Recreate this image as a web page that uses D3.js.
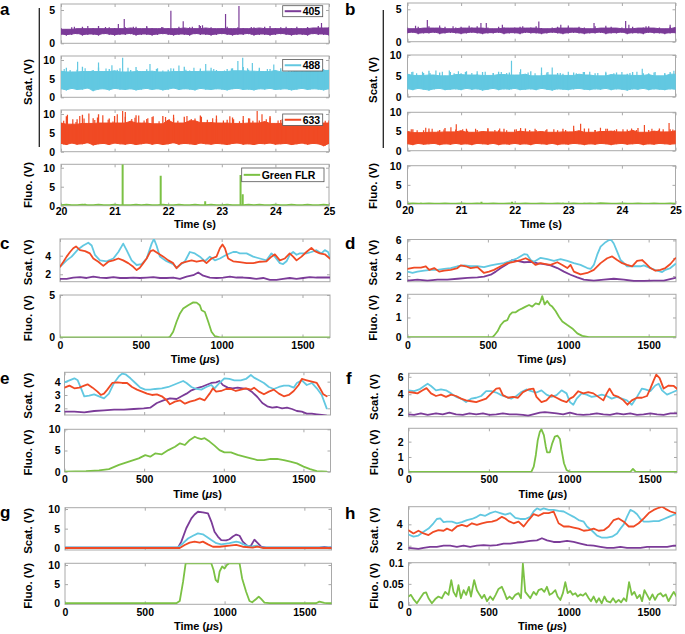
<!DOCTYPE html>
<html><head><meta charset="utf-8">
<script src="https://cdn.jsdelivr.net/npm/d3@7"></script>
<style>body{margin:0;background:#fff}</style>
</head><body>
<svg id="chart" width="685" height="634"></svg>
<script>
// ---------- DATA ----------
const aTime = [20.0,20.1,20.2,20.3,20.4,20.5,20.6,20.7,20.8,20.9,21.0,21.1,21.2,21.3,21.4,21.5,21.6,21.7,21.8,21.9,22.0,22.1,22.2,22.3,22.4,22.5,22.6,22.7,22.8,22.9,23.0,23.1,23.2,23.3,23.4,23.5,23.6,23.7,23.8,23.9,24.0,24.1,24.2,24.3,24.4,24.5,24.6,24.7,24.8,24.9,25.0];
const aTimeTicks = [20,21,22,23,24,25];
const usTicks = [0,500,1000,1500];

// panel a: envelopes of the dense traces + isolated spikes
const a405Hi = [2.3,2.1,2.4,2.2,2.5,2.2,2.3,2.6,2.2,2.4, 2.3,2.2,2.4,2.3,2.5,2.2,2.4,2.3,2.2,2.4, 2.3,2.2,2.5,2.3,2.4,2.2,2.6,2.3,2.4,2.2, 2.3,2.5,2.2,2.4,2.3,2.2,2.4,2.3,2.5,2.2, 2.3,2.4,2.2,2.3,2.5,2.2,2.4,2.3,2.6,2.3, 2.4];
const a405Lo = [1.4,1.3,1.4,1.5,1.3,1.4,1.4,1.3,1.5,1.4, 1.3,1.4,1.4,1.5,1.3,1.4,1.4,1.3,1.4,1.5, 1.4,1.3,1.4,1.4,1.3,1.5,1.4,1.4,1.3,1.4, 1.5,1.4,1.3,1.4,1.4,1.5,1.3,1.4,1.4,1.3, 1.4,1.5,1.4,1.3,1.4,1.4,1.3,1.5,1.4,1.4, 1.3];
const a405Spikes = [[20.5,2.6],[21.07,2.9],[21.18,3.65],[21.6,2.6],[22.05,4.9],[22.28,3.3],[22.58,2.75],[22.64,2.7],[23.07,4.4],[23.32,5.6],[23.9,2.6],[24.86,3.05],[20.25,2.5],[20.83,2.45],[21.35,2.5],[21.88,2.45],[22.45,2.5],[23.55,2.45],[24.2,2.5],[24.6,2.45]];
const a488Hi = [7.0,7.9,6.8,7.4,8.2,6.9,7.3,8.0,6.9,7.6, 7.1,7.8,6.8,7.3,8.1,6.9,7.5,7.0,7.8,6.8, 7.4,7.7,6.9,8.2,7.2,6.9,7.7,7.0,7.9,7.3, 6.9,7.6,7.8,7.1,8.1,7.4,7.0,7.9,6.9,7.6, 7.2,7.8,6.8,7.5,7.0,7.7,7.3,6.9,7.6,7.2, 7.4];
const a488Lo = [2.3,2.0,2.4,2.1,2.2,2.5,1.8,2.2,2.3,2.0, 2.4,2.2,2.1,2.3,2.0,2.2,2.4,2.1,2.3,2.0, 2.2,2.5,2.1,2.3,2.2,2.0,2.4,2.2,2.1,2.3, 2.2,2.0,2.3,2.4,2.1,2.2,2.0,2.3,2.2,2.4, 2.1,2.2,2.3,2.0,2.2,2.4,2.1,2.3,2.2,2.0, 2.3];
const a488Spikes = [[20.31,9.5],[20.7,9.3],[20.95,8.6],[21.15,10.6],[21.66,8.9],[22.2,8.5],[22.7,8.9],[23.3,9.7],[23.39,10.6],[23.57,9.2],[23.97,8.8],[24.5,8.4],
  [20.06,7.6],[20.17,7.3],[20.45,7.8],[20.58,7.2],[20.84,7.7],[21.05,7.4],[21.25,7.9],[21.42,7.3],[21.78,7.6],[21.9,7.2],[22.05,7.8],[22.33,7.4],[22.48,7.9],[22.6,7.3],[22.85,7.6],[23.05,7.2],[23.18,7.7],[23.48,7.8],[23.7,7.4],[23.85,7.6],[24.1,7.3],[24.25,7.8],[24.65,7.5],[24.78,7.2],[24.9,7.6]];
const a633Hi = [7.6,9.4,7.3,8.6,9.8,7.5,8.9,9.9,7.6,8.8, 9.5,7.6,9.3,8.1,9.7,7.6,8.7,9.2,7.4,9.5, 8.4,9.0,7.6,9.3,8.2,8.8,9.6,7.7,7.9,8.7, 7.6,8.5,9.1,7.5,8.4,8.9,7.6,8.3,8.0,9.1, 7.5,8.4,8.8,7.6,8.2,8.7,7.4,8.1,8.6,7.6, 8.3];
const a633Lo = [2.2,1.9,2.3,2.0,2.1,2.4,1.8,2.1,2.2,1.9, 2.3,2.1,2.0,2.2,1.9,2.1,2.3,2.0,2.2,1.9, 2.1,2.4,2.0,2.2,2.1,1.9,2.3,2.1,2.0,2.2, 2.1,1.9,2.2,2.3,2.0,2.1,1.9,2.2,2.1,2.3, 2.0,2.1,2.2,1.9,2.1,2.3,2.0,2.2,2.1,1.6, 2.2];
const a633Spikes = [[20.12,9.8],[20.35,9.5],[20.52,10.1],[20.78,9.7],[21.05,9.9],[21.15,10.8],[21.2,10.5],[21.45,9.6],[21.72,9.4],[21.95,9.2],[22.1,9.8],[22.35,9.5],[22.62,9.3],[22.9,9.6],[23.15,9.4],[23.4,9.5],[23.66,10.8],[23.75,9.9],[23.9,9.5],[24.2,9.0],[24.55,8.9],[24.8,9.2],
  [20.05,8.2],[20.22,8.6],[20.28,7.9],[20.43,8.8],[20.63,8.4],[20.68,9.1],[20.88,8.5],[20.97,8.0],[21.32,8.7],[21.38,9.0],[21.55,8.3],[21.62,8.9],[21.83,8.1],[22.02,8.6],[22.18,8.2],[22.43,8.7],[22.53,8.0],[22.73,8.5],[22.83,8.9],[23.03,8.3],[23.22,8.6],[23.33,8.1],[23.52,8.8],[23.58,8.2],[23.83,8.6],[24.05,8.3],[24.13,8.7],[24.33,8.1],[24.42,8.5],[24.63,8.0],[24.72,8.4],[24.93,8.2]];
const aFluoBase = [0.2,0.3,0.2,0.2,0.3,0.2,0.2,0.3,0.2,0.2, 0.3,0.2,0.2,0.2,0.3,0.2,0.3,0.2,0.2,0.3, 0.2,0.2,0.3,0.2,0.2,0.3,0.2,0.2,0.3,0.2, 0.2,0.3,0.2,0.2,0.2,0.3,0.2,0.3,0.2,0.2, 0.3,0.2,0.2,0.3,0.2,0.2,0.3,0.2,0.2,0.3, 0.2];
const aFluoSpikes = [[20.45,0.5],[21.15,10.9],[21.86,7.9],[22.69,1.2],[23.35,8.1],[23.39,3.0]];

// panel b
const b405Hi = [2.2,2.0,2.3,2.1,2.4,2.1,2.2,2.3,2.0,2.2, 2.3,2.1,2.2,2.4,2.1,2.2,2.0,2.3,2.2,2.1, 2.2,2.3,2.1,2.2,2.4,2.1,2.0,2.2,2.3,2.1, 2.2,2.1,2.3,2.2,2.0,2.4,2.1,2.2,2.3,2.1, 2.2,2.0,2.3,2.1,2.2,2.4,2.1,2.2,2.0,2.3, 2.2];
const b405Lo = [1.4,1.5,1.3,1.4,1.4,1.5,1.3,1.4,1.5,1.4, 1.3,1.4,1.5,1.4,1.3,1.4,1.4,1.5,1.3,1.4, 1.4,1.3,1.5,1.4,1.4,1.3,1.4,1.5,1.4,1.3, 1.4,1.5,1.4,1.3,1.4,1.4,1.5,1.3,1.4,1.4, 1.5,1.3,1.4,1.4,1.3,1.5,1.4,1.4,1.3,1.4, 1.4];
const b405Spikes = [[20.37,3.35],[20.6,2.5],[21.37,2.9],[21.47,2.9],[21.77,2.6],[22.45,3.1],[22.86,2.6],[23.0,2.5],[23.48,2.9],[24.07,3.2],[24.13,2.6],[24.9,2.6],[20.15,2.45],[20.85,2.4],[21.15,2.45],[22.15,2.4],[23.7,2.45],[24.45,2.4]];
const b488Hi = [5.4,6.0,5.1,5.7,6.2,5.2,5.8,5.0,5.9,5.3, 5.6,6.1,5.2,5.5,5.9,5.1,5.7,6.0,5.3,5.8, 5.2,5.9,5.4,6.1,5.0,5.6,5.8,5.2,5.7,5.5, 5.1,5.8,5.4,5.9,5.2,5.6,5.0,5.7,5.3,5.8, 5.2,5.5,5.9,5.1,5.6,5.3,5.8,5.0,5.5,5.9, 5.4];
const b488Lo = [1.9,1.7,2.0,1.8,1.6,1.9,2.0,1.7,1.8,1.9, 1.7,2.0,1.8,1.9,1.6,1.8,2.0,1.7,1.9,1.8, 2.0,1.7,1.8,1.9,1.7,2.0,1.8,1.6,1.9,1.8, 1.7,1.9,2.0,1.8,1.7,1.9,1.8,2.0,1.7,1.9, 1.8,1.6,1.9,1.8,2.0,1.7,1.9,1.8,1.7,1.9, 1.8];
const b488Spikes = [[20.53,6.3],[20.78,6.3],[20.95,6.1],[21.3,6.1],[21.94,8.6],[22.11,6.6],[22.5,7.0],[22.7,7.0],[23.4,6.0],[24.38,6.7],[24.97,6.2],
  [20.08,5.9],[20.17,5.6],[20.28,6.0],[20.42,5.7],[20.65,6.0],[20.87,5.6],[21.08,5.9],[21.2,5.7],[21.45,6.0],[21.6,5.6],[21.75,5.9],[21.85,5.7],[22.25,5.8],[22.38,5.6],[22.62,5.9],[22.85,5.7],[23.0,6.0],[23.15,5.6],[23.28,5.9],[23.55,5.7],[23.7,6.0],[23.85,5.6],[24.0,5.9],[24.15,5.7],[24.28,6.0],[24.5,5.6],[24.62,5.9],[24.8,5.7]];
const b633Hi = [5.0,5.6,4.7,5.3,5.8,4.8,5.4,5.9,4.9,5.5, 5.2,5.7,4.8,5.4,5.0,5.6,4.9,5.3,5.7,4.8, 5.5,5.1,5.8,4.9,5.4,5.0,5.6,4.8,5.3,5.7, 4.9,5.5,5.2,5.8,4.8,5.4,5.0,5.7,5.1,5.6, 4.9,5.5,5.3,5.9,4.8,5.4,5.1,5.8,4.9,5.6, 5.2];
const b633Lo = [1.8,1.6,1.9,1.7,1.8,1.9,1.6,1.8,1.7,1.9, 1.7,1.8,1.6,1.9,1.8,1.7,1.9,1.6,1.8,1.7, 1.9,1.7,1.8,1.6,1.9,1.8,1.7,1.9,1.6,1.8, 1.7,1.9,1.8,1.6,1.8,1.7,1.9,1.8,1.6,1.8, 1.9,1.7,1.8,1.9,1.6,1.8,1.7,1.9,1.8,1.7, 1.8];
const b633Spikes = [[20.34,6.0],[20.81,6.1],[20.91,6.9],[21.5,5.9],[22.11,5.9],[23.1,6.5],[23.23,7.0],[23.6,6.0],[24.42,6.7],[24.88,7.2],
  [20.07,5.6],[20.18,5.3],[20.46,5.7],[20.57,5.2],[20.68,5.5],[21.03,5.6],[21.12,5.2],[21.27,5.7],[21.63,5.4],[21.72,5.8],[21.85,5.3],[22.03,5.6],[22.28,5.4],[22.38,5.7],[22.58,5.3],[22.73,5.6],[22.95,5.4],[23.38,5.8],[23.5,5.4],[23.73,5.7],[23.86,5.3],[24.02,5.6],[24.18,5.8],[24.27,5.4],[24.56,5.7],[24.68,5.3],[24.77,5.6],[24.95,5.5]];
const bFluoBase = [0.15,0.2,0.15,0.15,0.2,0.15,0.15,0.2,0.15,0.15, 0.2,0.15,0.15,0.2,0.15,0.15,0.2,0.15,0.15,0.2, 0.15,0.15,0.2,0.15,0.15,0.2,0.15,0.15,0.2,0.15, 0.15,0.2,0.15,0.15,0.2,0.15,0.25,0.2,0.15,0.15, 0.2,0.15,0.15,0.2,0.15,0.15,0.2,0.15,0.15,0.2, 0.15];
const bFluoSpikes = [[20.25,0.3],[21.38,0.6],[21.95,0.6],[22.9,0.35],[23.3,0.3]];

// panel c  [time µs, volts]
const cPurple = [[0,1.5],[41,1.5],[82,1.65],[124,1.7],[165,1.6],[206,1.75],[247,1.65],[288,1.6],[330,1.7],[371,1.6],[412,1.6],[453,1.65],[494,1.6],[536,1.65],[577,1.7],[618,1.6],[659,1.6],[700,1.65],[742,1.5],[783,1.75],[824,1.9],[855,2.2],[886,1.85],[927,1.65],[968,1.6],[1009,1.65],[1051,1.75],[1092,1.65],[1133,1.65],[1174,1.6],[1215,1.5],[1257,1.6],[1298,1.4],[1339,1.4],[1380,1.5],[1421,1.6],[1463,1.5],[1504,1.6],[1545,1.7],[1586,1.65],[1627,1.65],[1669,1.65]];
const cCyan = [[0,2.8],[41,3.5],[72,3.9],[113,4.7],[144,5.1],[175,5.4],[196,5.1],[216,4.1],[247,3.5],[288,3.4],[330,3.7],[361,4.4],[391,5.3],[412,4.6],[443,3.5],[474,3.0],[505,3.1],[536,3.7],[567,5.3],[581,5.8],[597,5.1],[618,3.9],[659,3.4],[700,3.1],[721,2.7],[742,3.0],[773,3.4],[803,4.4],[834,4.25],[865,3.9],[896,3.4],[927,3.9],[958,3.5],[989,3.7],[1030,4.1],[1071,4.4],[1092,4.4],[1112,4.25],[1154,4.25],[1195,3.9],[1236,3.7],[1277,3.5],[1308,4.25],[1329,3.9],[1360,3.2],[1380,3.1],[1401,3.4],[1421,4.1],[1442,4.4],[1463,4.1],[1483,4.25],[1524,4.25],[1555,4.4],[1586,4.6],[1617,4.25],[1638,4.6],[1658,4.4],[1669,3.9]];
const cRed = [[0,2.8],[21,3.35],[41,3.9],[62,4.4],[82,4.8],[99,5.0],[124,4.6],[155,4.5],[185,4.25],[206,3.7],[237,3.35],[268,2.9],[299,3.35],[330,3.5],[361,3.7],[391,3.5],[422,3.2],[453,2.8],[474,2.45],[494,2.7],[515,3.2],[536,3.7],[560,4.5],[577,4.6],[608,4.25],[639,3.9],[670,3.5],[700,3.2],[721,2.65],[752,3.2],[783,3.35],[814,3.5],[845,3.35],[886,3.5],[906,3.2],[937,3.7],[968,3.9],[989,4.8],[1005,5.2],[1020,4.8],[1040,3.7],[1071,3.4],[1112,3.3],[1154,3.2],[1195,3.2],[1236,3.35],[1277,3.4],[1308,3.9],[1329,4.15],[1360,3.5],[1391,3.7],[1421,4.25],[1442,3.9],[1463,3.5],[1494,3.9],[1524,4.4],[1555,4.85],[1576,4.5],[1607,4.25],[1638,4.15],[1669,3.7]];
const cGreen = [[0,0.01],[670,0.01],[680,0.08],[700,0.67],[721,1.85],[742,2.83],[762,3.4],[793,3.8],[824,4.13],[845,4.1],[865,3.8],[876,3.2],[896,3.0],[917,1.85],[937,0.67],[958,0.15],[989,0.01],[1669,0.01]];

// panel d
const dPurple = [[0,1.5],[62,1.6],[124,1.5],[186,1.6],[248,1.6],[311,1.7],[373,1.8],[435,1.85],[476,1.95],[518,2.15],[549,2.5],[580,2.9],[621,3.35],[652,3.8],[683,3.7],[725,3.55],[766,3.6],[807,3.45],[849,3.35],[890,3.2],[932,2.9],[973,2.5],[1014,2.15],[1056,1.85],[1097,1.6],[1159,1.5],[1221,1.6],[1283,1.7],[1346,1.6],[1408,1.45],[1470,1.45],[1532,1.5],[1594,1.5],[1666,1.8]];
const dCyan = [[0,2.5],[31,2.35],[62,2.5],[104,2.6],[145,2.7],[186,2.7],[228,2.8],[269,2.9],[311,3.1],[352,3.2],[393,3.1],[435,3.1],[476,3.0],[518,3.2],[559,3.35],[600,3.45],[642,3.7],[683,4.0],[725,4.45],[745,4.4],[766,3.8],[787,3.6],[828,4.05],[869,3.9],[911,3.7],[952,3.9],[994,3.7],[1035,3.45],[1076,3.25],[1118,2.9],[1139,2.8],[1159,3.25],[1180,4.4],[1201,5.3],[1232,5.8],[1263,6.15],[1283,5.65],[1304,4.75],[1325,3.8],[1366,3.1],[1408,3.1],[1449,3.1],[1470,3.2],[1511,2.9],[1553,2.6],[1584,2.45],[1604,2.7],[1635,2.9],[1666,3.35]];
const dRed = [[0,2.8],[41,2.95],[83,2.95],[114,3.1],[135,2.7],[166,2.9],[197,2.5],[228,2.6],[269,2.7],[311,2.9],[331,3.2],[362,3.1],[393,2.9],[435,3.0],[476,2.35],[507,2.5],[538,2.7],[580,3.1],[621,3.45],[662,3.6],[704,3.8],[735,4.0],[766,3.7],[797,3.25],[828,3.45],[859,3.35],[890,3.25],[932,3.55],[963,3.25],[994,2.9],[1014,3.25],[1035,2.5],[1076,2.2],[1118,2.35],[1159,2.7],[1201,3.45],[1242,4.0],[1273,4.2],[1304,3.8],[1335,3.45],[1366,3.25],[1397,3.1],[1428,3.7],[1459,3.8],[1480,3.45],[1511,2.9],[1542,2.6],[1573,2.7],[1604,2.9],[1635,3.35],[1666,4.0]];
const dGreen = [[0,0.01],[528,0.01],[538,0.08],[559,0.29],[580,0.62],[600,0.8],[621,0.87],[636,1.13],[652,1.26],[673,1.26],[693,1.38],[714,1.46],[735,1.55],[756,1.63],[776,1.55],[797,1.71],[818,1.66],[828,1.83],[838,2.08],[853,1.66],[869,1.83],[886,1.63],[900,1.55],[921,1.33],[942,1.04],[963,0.8],[994,0.62],[1025,0.45],[1056,0.2],[1087,0.07],[1128,0.01],[1666,0.01]];

// panel e
const ePurple = [[0,1.75],[62,1.75],[124,1.7],[186,1.8],[248,1.85],[311,1.9],[373,1.9],[435,1.95],[497,2.0],[538,2.05],[580,2.4],[621,2.6],[662,2.75],[704,2.7],[735,2.9],[766,3.1],[797,3.35],[828,3.5],[859,3.6],[890,3.75],[921,3.9],[952,3.95],[973,4.05],[994,3.75],[1025,3.55],[1056,3.5],[1087,3.55],[1118,3.5],[1149,3.45],[1180,3.2],[1211,2.85],[1242,2.4],[1273,2.15],[1304,2.05],[1335,2.1],[1366,2.0],[1397,2.05],[1428,1.95],[1459,1.8],[1490,1.75],[1521,1.6],[1553,1.6],[1584,1.55],[1615,1.5],[1646,1.45]];
const eCyan = [[0,3.95],[31,4.1],[62,4.25],[83,4.1],[104,3.5],[124,2.9],[155,2.95],[186,3.05],[217,2.9],[248,2.75],[279,3.1],[311,3.9],[342,4.4],[362,4.6],[383,4.55],[414,4.25],[445,3.9],[476,3.55],[507,3.4],[538,3.4],[569,3.45],[611,3.5],[652,3.6],[683,3.75],[714,3.9],[745,4.05],[766,3.9],[797,3.6],[828,3.45],[859,3.4],[890,3.6],[921,3.75],[942,3.5],[973,3.9],[1004,4.25],[1035,4.2],[1066,4.1],[1107,4.1],[1139,4.2],[1170,4.5],[1190,4.3],[1221,4.1],[1252,3.9],[1283,3.6],[1314,3.45],[1346,3.6],[1377,3.7],[1408,3.7],[1439,3.55],[1459,3.9],[1490,4.1],[1521,3.75],[1553,3.9],[1584,3.5],[1615,3.0],[1646,2.0]];
const eRed = [[0,3.55],[31,3.7],[62,3.5],[93,3.55],[124,3.7],[145,3.8],[176,3.55],[207,3.25],[228,3.0],[248,3.1],[269,3.4],[300,3.9],[331,3.95],[362,3.9],[393,3.9],[424,3.6],[455,3.4],[487,3.25],[518,3.1],[549,3.0],[580,3.05],[611,2.9],[642,2.6],[662,2.3],[693,2.5],[725,2.6],[756,2.35],[787,2.5],[818,2.6],[849,2.75],[880,2.6],[911,3.1],[932,3.5],[952,3.25],[983,3.3],[1014,3.45],[1045,3.45],[1076,3.3],[1108,3.4],[1139,3.5],[1170,3.4],[1190,3.55],[1221,3.25],[1252,3.05],[1283,3.25],[1314,3.4],[1346,3.1],[1377,2.9],[1408,3.0],[1439,3.3],[1470,3.75],[1490,4.2],[1521,4.1],[1553,4.0],[1584,3.9],[1604,3.5],[1625,3.05],[1646,2.9]];
const eGreen = [[0,0.02],[135,0.15],[217,0.3],[279,0.6],[342,1.6],[404,2.4],[466,3.15],[507,3.9],[538,3.55],[569,4.3],[611,4.1],[652,5.1],[694,5.9],[725,6.7],[756,6.3],[787,7.5],[818,8.25],[838,7.9],[859,7.7],[880,7.9],[911,7.1],[942,6.15],[973,5.1],[1004,4.55],[1045,4.55],[1087,3.95],[1128,3.55],[1170,3.15],[1211,2.75],[1252,2.75],[1294,3.0],[1335,3.0],[1377,2.75],[1418,2.35],[1459,1.95],[1501,1.2],[1542,0.6],[1584,0.15],[1646,0.02]];

// panel f
const fPurple = [[0,1.7],[35,1.65],[77,1.8],[119,1.65],[171,1.8],[213,1.7],[254,1.9],[296,1.7],[338,1.65],[379,1.8],[421,1.7],[463,1.8],[504,1.65],[546,1.7],[587,1.8],[629,1.7],[671,1.7],[712,1.65],[744,1.55],[775,1.7],[817,1.9],[848,1.95],[879,1.9],[921,1.8],[962,1.7],[1004,1.9],[1046,1.7],[1087,1.65],[1129,1.7],[1171,1.8],[1212,1.7],[1254,1.65],[1296,1.8],[1337,1.7],[1379,1.8],[1421,1.65],[1462,1.7],[1504,1.8],[1546,1.7],[1587,1.65],[1629,1.8],[1675,1.8]];
const fCyan = [[0,4.45],[35,4.35],[67,4.55],[98,4.95],[119,5.2],[140,4.95],[171,4.45],[202,4.55],[233,4.45],[265,4.1],[296,3.7],[327,3.5],[358,3.1],[390,3.5],[421,3.6],[452,3.8],[483,4.35],[515,4.35],[546,4.2],[577,3.9],[608,3.7],[639,3.5],[671,3.8],[702,4.25],[733,4.55],[764,4.35],[796,4.2],[827,4.45],[858,3.95],[889,3.7],[921,3.9],[952,4.45],[983,4.1],[1004,3.1],[1025,2.8],[1046,3.5],[1077,4.1],[1108,3.95],[1139,3.7],[1171,3.8],[1202,3.95],[1233,3.8],[1264,3.5],[1296,3.7],[1327,3.5],[1358,3.3],[1389,2.8],[1421,3.7],[1452,4.65],[1473,4.55],[1504,4.35],[1535,5.0],[1556,5.2],[1577,4.45],[1608,3.95],[1639,4.2],[1671,4.45]];
const fRed = [[0,4.25],[25,4.2],[56,4.1],[88,4.45],[112,4.7],[140,4.1],[171,3.8],[202,3.95],[233,3.7],[265,3.95],[296,3.8],[327,3.5],[358,3.3],[390,3.2],[421,3.1],[452,3.3],[483,3.5],[515,4.1],[546,4.65],[567,4.7],[587,3.9],[619,3.6],[650,3.7],[681,3.6],[712,4.25],[746,4.55],[777,4.65],[796,3.7],[827,3.1],[858,3.3],[889,3.9],[921,3.6],[952,3.3],[983,3.1],[1004,3.5],[1025,3.7],[1056,4.35],[1087,4.1],[1118,4.25],[1150,4.1],[1181,3.7],[1212,3.3],[1233,4.1],[1250,4.65],[1275,3.9],[1306,3.7],[1337,3.3],[1362,2.8],[1389,3.3],[1421,3.6],[1452,3.6],[1483,3.8],[1504,4.65],[1525,5.6],[1541,6.25],[1562,5.85],[1587,4.65],[1618,5.0],[1650,4.95],[1675,4.55]];
const fGreen = [[0,0.02],[764,0.02],[779,0.37],[792,1.13],[804,2.1],[817,2.65],[827,2.8],[842,2.43],[854,1.67],[862,1.3],[879,1.3],[894,1.89],[910,2.33],[927,2.39],[942,2.17],[952,1.46],[967,0.59],[983,0.15],[1004,0.02],[1379,0.02],[1396,0.22],[1412,0.04],[1675,0.02]];

// panel g
const gPurple = [[0,0.17],[708,0.17],[729,1.7],[760,5.1],[792,7.6],[812,8.6],[833,9.3],[864,9.15],[896,8.9],[917,6.8],[937,4.2],[958,3.0],[979,2.1],[1010,2.0],[1031,2.3],[1052,3.0],[1073,3.5],[1094,3.2],[1114,1.7],[1146,0.5],[1166,0.7],[1187,2.2],[1208,1.3],[1229,0.4],[1260,0.17],[1594,0.17],[1625,0.35],[1656,0.2],[1670,0.2]];
const gCyan = [[0,0.25],[708,0.25],[740,1.3],[771,2.5],[802,3.2],[833,3.8],[864,3.55],[885,3.0],[917,2.1],[948,1.3],[979,1.0],[1031,1.3],[1073,1.7],[1094,1.5],[1125,0.85],[1166,0.4],[1198,0.7],[1229,0.25],[1670,0.25]];
const gRed = [[0,0.08],[719,0.08],[750,0.85],[781,1.45],[812,1.7],[844,1.45],[864,1.7],[896,1.0],[927,0.4],[969,0.4],[1031,0.7],[1073,0.85],[1114,0.4],[1177,0.2],[1208,0.45],[1239,0.08],[1670,0.08]];
const gGreen = [[0,0.02],[698,0.02],[719,0.6],[740,5.65],[756,10.4],[917,10.4],[931,8.7],[944,6.1],[958,5.5],[969,8.3],[985,9.6],[1000,9.1],[1014,10.0],[1027,10.4],[1094,10.4],[1110,6.5],[1135,3.0],[1156,0.6],[1173,0.26],[1198,1.13],[1214,1.74],[1229,1.13],[1250,0.2],[1281,0.02],[1573,0.02],[1594,0.43],[1625,0.1],[1656,0.02],[1670,0.02]];

// panel h
const hPurple = [[0,1.8],[31,1.75],[62,1.7],[94,1.8],[135,1.9],[177,1.9],[219,2.0],[260,2.0],[302,1.9],[344,2.0],[385,1.9],[427,2.0],[469,2.05],[510,2.0],[552,2.05],[594,2.2],[635,2.2],[677,2.3],[719,2.35],[760,2.45],[802,2.5],[833,2.7],[865,2.5],[906,2.35],[948,2.35],[990,2.45],[1031,2.35],[1073,2.2],[1114,2.05],[1156,2.0],[1198,1.9],[1239,1.8],[1281,1.8],[1323,1.9],[1364,1.8],[1406,1.8],[1448,1.8],[1490,1.9],[1531,1.9],[1573,1.9],[1615,1.9],[1656,2.0],[1673,2.0]];
const hCyan = [[0,3.05],[31,2.85],[62,2.95],[94,3.3],[125,3.6],[156,4.1],[177,4.5],[198,4.55],[219,4.2],[240,4.25],[271,4.25],[302,4.1],[333,4.2],[365,4.4],[396,4.5],[427,4.7],[448,4.9],[479,4.8],[510,5.05],[542,5.2],[573,5.05],[604,4.9],[635,5.05],[667,4.6],[698,4.5],[729,4.5],[760,4.7],[781,5.2],[802,5.5],[823,5.35],[844,5.5],[875,5.35],[906,5.35],[937,5.25],[969,5.2],[1000,4.95],[1031,4.7],[1062,4.4],[1094,4.25],[1114,3.8],[1146,3.4],[1177,2.95],[1208,2.75],[1239,2.75],[1271,2.85],[1302,3.15],[1323,3.6],[1344,4.0],[1364,4.7],[1385,5.35],[1406,5.2],[1427,4.95],[1448,4.5],[1469,4.25],[1500,4.25],[1531,4.3],[1562,4.3],[1594,4.5],[1625,4.7],[1656,4.9],[1673,4.95]];
const hRed = [[0,3.45],[31,3.15],[62,3.4],[94,3.15],[125,3.0],[156,3.3],[187,3.45],[219,3.4],[240,3.6],[271,3.4],[302,3.8],[333,3.95],[364,3.8],[396,4.1],[427,3.95],[458,4.1],[490,4.2],[521,4.25],[552,4.4],[583,4.7],[604,4.55],[625,4.3],[656,4.1],[687,4.25],[719,3.8],[750,4.4],[781,4.95],[812,4.8],[844,5.05],[875,5.05],[906,5.2],[937,4.1],[969,3.8],[1000,3.8],[1031,3.7],[1062,3.6],[1094,3.4],[1125,3.45],[1156,3.6],[1187,3.4],[1219,3.45],[1250,3.8],[1281,4.4],[1312,4.55],[1344,4.25],[1375,3.8],[1406,3.8],[1437,4.1],[1469,4.55],[1500,5.05],[1531,5.35],[1562,5.55],[1583,5.65],[1604,5.45],[1635,5.2],[1667,5.05]];
const hGreen = [[0,0.02],[15,0.024],[31,0.014],[52,0.004],[73,0.016],[94,0.028],[110,0.03],[125,0.016],[146,0.004],[167,0.014],[187,0.02],[208,0.016],[229,0.031],[250,0.024],[267,0.059],[281,0.031],[298,0.02],[312,0.047],[327,0.016],[344,0.035],[360,0.024],[377,0.043],[390,0.02],[410,0.059],[427,0.035],[444,0.024],[458,0.016],[473,0.024],[490,0.009],[510,0.02],[527,0.012],[544,0.024],[562,0.038],[583,0.043],[600,0.028],[614,0.014],[631,0.02],[648,0.014],[667,0.024],[687,0.028],[702,0.016],[714,0.098],[729,0.031],[744,0.024],[760,0.016],[781,0.031],[798,0.024],[812,0.035],[831,0.038],[848,0.031],[864,0.043],[881,0.024],[898,0.028],[917,0.035],[931,0.02],[948,0.012],[964,0.028],[979,0.054],[994,0.028],[1010,0.033],[1025,0.024],[1042,0.028],[1056,0.02],[1073,0.025],[1089,0.022],[1106,0.028],[1125,0.016],[1139,0.009],[1156,0.02],[1173,0.006],[1189,0.016],[1206,0.004],[1223,0.02],[1239,0.009],[1260,0.006],[1277,0.016],[1294,0.006],[1312,0.012],[1327,0.006],[1344,0.016],[1360,0.009],[1377,0.054],[1394,0.024],[1410,0.031],[1427,0.016],[1444,0.024],[1458,0.009],[1473,0.035],[1489,0.024],[1506,0.012],[1523,0.025],[1539,0.012],[1556,0.024],[1573,0.028],[1589,0.02],[1606,0.025],[1623,0.009],[1639,0.02],[1656,0.031],[1673,0.02]];

const legendLabels = ['405','488','633','Green FLR'];

// ---------- DRAWING ----------
const FONT = '"Liberation Sans", Arial, Helvetica, sans-serif';
const COL = {p:'#7B3B98', c:'#62C8E1', r:'#F04A24', g:'#7BC144'};
const BOX = '#a9a9a9';
const svg = d3.select('#chart').attr('font-family', FONT);
let clipN = 0;

function makeAxes(o) {
  const x = d3.scaleLinear().domain(o.xd).range([o.x0, o.x1]);
  const y = d3.scaleLinear().domain(o.yd).range([o.y1, o.y0]);
  const id = 'clip' + (clipN++);
  svg.append('clipPath').attr('id', id).append('rect')
    .attr('x', o.x0).attr('y', o.y0).attr('width', o.x1 - o.x0).attr('height', o.y1 - o.y0);
  const g = svg.append('g');
  g.append('rect').attr('x', o.x0).attr('y', o.y0).attr('width', o.x1 - o.x0).attr('height', o.y1 - o.y0)
    .attr('fill', '#fff').attr('stroke', BOX).attr('stroke-width', 1);
  g.append('g').attr('transform', `translate(${o.x0},0)`)
    .call(d3.axisLeft(y).tickValues(o.yt).tickSize(-3).tickPadding(o.yPad ?? 6).tickFormat(d3.format('~g')));
  g.append('g').attr('transform', `translate(${o.x1},0)`)
    .call(d3.axisRight(y).tickValues(o.yt).tickSize(-3).tickFormat(() => ''));
  g.append('g').attr('transform', `translate(0,${o.y1})`)
    .call(d3.axisBottom(x).tickValues(o.xt).tickSize(-3).tickPadding(o.xPad ?? 4.5)
      .tickFormat(o.xLab ? d3.format('~g') : () => ''));
  g.append('g').attr('transform', `translate(0,${o.y0})`)
    .call(d3.axisTop(x).tickValues(o.xt).tickSize(-3).tickFormat(() => ''));
  g.selectAll('.domain').remove();
  g.selectAll('.tick line').attr('stroke', BOX);
  g.selectAll('.tick text').attr('font-size', 10.5).attr('font-weight', 'bold')
    .attr('font-family', FONT).attr('fill', '#000');
  const plot = svg.append('g').attr('clip-path', `url(#${id})`);
  return {x, y, plot};
}

function drawLine(ax, data, color, w) {
  ax.plot.append('path').datum(data)
    .attr('d', d3.line().x(d => ax.x(d[0])).y(d => ax.y(d[1])))
    .attr('fill', 'none').attr('stroke', color).attr('stroke-width', w || 1.8)
    .attr('stroke-linejoin', 'round').attr('stroke-linecap', 'round');
}

// dense noisy trace: solid core + a needle at every sample and at each listed spike
function drawBand(ax, time, lo, hi, spikes, color) {
  const n = Math.min(time.length, lo.length, hi.length);
  const idx = d3.range(n);
  const core = idx.map(i => d3.min([hi[Math.max(0, i - 1)], hi[i], hi[Math.min(n - 1, i + 1)]]));
  ax.plot.append('path').datum(idx)
    .attr('d', d3.area().x(i => ax.x(time[i])).y0(i => ax.y(lo[i])).y1(i => ax.y(core[i])))
    .attr('fill', color).attr('stroke', color).attr('stroke-width', 1).attr('stroke-linejoin', 'round');
  ax.plot.selectAll(null).data(idx).join('line')
    .attr('x1', i => ax.x(time[i])).attr('x2', i => ax.x(time[i]))
    .attr('y1', i => ax.y(lo[i] - 0.15)).attr('y2', i => ax.y(hi[i]))
    .attr('stroke', color).attr('stroke-width', 1.3);
  ax.plot.selectAll(null).data(spikes).join('line')
    .attr('x1', d => ax.x(d[0])).attr('x2', d => ax.x(d[0]))
    .attr('y1', d => ax.y(lo[d3.bisectCenter(time, d[0])]))
    .attr('y2', d => ax.y(d[1]))
    .attr('stroke', color).attr('stroke-width', 1.2);
}

function drawFluoBase(ax, time, base, spikes, color) {
  const pts = time.map((t, i) => [t, base[i]]);
  drawLine(ax, pts, color, 1.6);
  ax.plot.selectAll(null).data(spikes).join('line')
    .attr('x1', d => ax.x(d[0])).attr('x2', d => ax.x(d[0]))
    .attr('y1', ax.y(0.2)).attr('y2', d => ax.y(d[1]))
    .attr('stroke', color).attr('stroke-width', 2);
}

function text(x, y, str, size, opt = {}) {
  const t = svg.append('text').attr('x', x).attr('y', y).attr('font-size', size)
    .attr('font-weight', 'bold').attr('fill', '#000').attr('font-family', FONT)
    .attr('text-anchor', opt.anchor || 'start');
  if (opt.rot) t.attr('transform', `rotate(-90,${x},${y})`).attr('dominant-baseline', 'central');
  t.text(str);
  return t;
}
function timeUs(x, y) {
  const t = svg.append('text').attr('x', x).attr('y', y).attr('font-size', 11)
    .attr('font-weight', 'bold').attr('text-anchor', 'middle').attr('font-family', FONT);
  t.append('tspan').text('Time (');
  t.append('tspan').attr('font-style', 'italic').text('μ');
  t.append('tspan').text('s)');
}
function legend(x0, x1, y0, y1, label, color) {
  svg.append('rect').attr('x', x0).attr('y', y0).attr('width', x1 - x0).attr('height', y1 - y0)
    .attr('fill', '#fff').attr('stroke', '#555').attr('stroke-width', 0.8);
  const cy = (y0 + y1) / 2;
  svg.append('line').attr('x1', x0 + 2).attr('x2', x0 + 18.5).attr('y1', cy).attr('y2', cy)
    .attr('stroke', color).attr('stroke-width', 2);
  text(x0 + 20, cy + 3.8, label, 10.5);
}

// ----- panel a -----
const A = {x0: 61, x1: 329, xd: [20, 25], xt: aTimeTicks};
const a1 = makeAxes({...A, y0: 4, y1: 43.3, yd: [0, 5.9], yt: [0, 5]});
drawBand(a1, aTime, a405Lo, a405Hi, a405Spikes, COL.p);
const a2 = makeAxes({...A, y0: 56, y1: 97.3, yd: [0, 11.07], yt: [0, 5, 10]});
drawBand(a2, aTime, a488Lo, a488Hi, a488Spikes, COL.c);
const a3 = makeAxes({...A, y0: 110, y1: 151.7, yd: [0, 11.06], yt: [0, 5, 10]});
drawBand(a3, aTime, a633Lo, a633Hi, a633Spikes, COL.r);
const a4 = makeAxes({...A, y0: 164.3, y1: 205.7, yd: [0, 10.9], yt: [0, 5, 10], xLab: true, xPad: 2});
drawFluoBase(a4, aTime, aFluoBase, aFluoSpikes, COL.g);
legend(282.7, 322.7, 5.7, 16.7, legendLabels[0], COL.p);
legend(282.7, 322.7, 59.5, 71, legendLabels[1], COL.c);
legend(282.7, 322.7, 114, 125.5, legendLabels[2], COL.r);
legend(241.7, 324, 168, 181.7, legendLabels[3], COL.g);
svg.append('line').attr('x1', 39.3).attr('x2', 39.3).attr('y1', 8).attr('y2', 147).attr('stroke', '#222').attr('stroke-width', 1.3);
text(28, 82, 'Scat. (V)', 11.5, {rot: true, anchor: 'middle'});
text(28, 185, 'Fluo. (V)', 11.5, {rot: true, anchor: 'middle'});
text(195, 228, 'Time (s)', 11, {anchor: 'middle'});

// ----- panel b -----
const B = {x0: 407.5, x1: 675.5, xd: [20, 25], xt: aTimeTicks};
const b1 = makeAxes({...B, y0: 3, y1: 41.7, yd: [0, 5.97], yt: [0, 5]});
drawBand(b1, aTime, b405Lo, b405Hi, b405Spikes, COL.p);
const b2 = makeAxes({...B, y0: 55, y1: 96.7, yd: [0, 10], yt: [0, 5, 10]});
drawBand(b2, aTime, b488Lo, b488Hi, b488Spikes, COL.c);
const b3 = makeAxes({...B, y0: 112.3, y1: 150.7, yd: [0, 10], yt: [0, 5, 10]});
drawBand(b3, aTime, b633Lo, b633Hi, b633Spikes, COL.r);
const b4 = makeAxes({...B, y0: 165.7, y1: 204, yd: [0, 10], yt: [0, 5, 10], xLab: true, xPad: 3});
drawFluoBase(b4, aTime, bFluoBase, bFluoSpikes, COL.g);
svg.append('line').attr('x1', 383.3).attr('x2', 383.3).attr('y1', 10).attr('y2', 148).attr('stroke', '#222').attr('stroke-width', 1.3);
text(373, 80, 'Scat. (V)', 11.5, {rot: true, anchor: 'middle'});
text(373, 186, 'Fluo. (V)', 11.5, {rot: true, anchor: 'middle'});
text(541, 228, 'Time (s)', 11, {anchor: 'middle'});

// ----- panels c-h -----
function pair(cfg, scat, fluo) {
  const s = makeAxes({x0: cfg.x0, x1: cfg.x1, xd: [0, 1670], xt: usTicks, y0: cfg.s[0], y1: cfg.s[1], yd: cfg.sd, yt: cfg.st, yPad: cfg.sPad});
  scat.forEach(([d, c]) => drawLine(s, d, c));
  const f = makeAxes({x0: cfg.x0, x1: cfg.x1, xd: [0, 1670], xt: usTicks, y0: cfg.f[0], y1: cfg.f[1], yd: cfg.fd, yt: cfg.ft, yPad: cfg.fPad, xLab: true, xPad: cfg.xPad});
  drawLine(f, fluo, COL.g);
  text(cfg.lx, (cfg.s[0] + cfg.s[1]) / 2 + 2, 'Scat. (V)', 11.5, {rot: true, anchor: 'middle'});
  text(cfg.lx, (cfg.f[0] + cfg.f[1]) / 2 + 2, 'Fluo. (V)', 11.5, {rot: true, anchor: 'middle'});
  timeUs((cfg.x0 + cfg.x1) / 2, cfg.tb);
}

pair({x0: 60, x1: 330, s: [239, 281.7], sd: [1.2, 5.8], st: [2, 4], sPad: 9, f: [295, 337.5], fd: [0, 5], ft: [0, 5], fPad: 5, xPad: 4.5, lx: 28, tb: 362.5},
  [[cPurple, COL.p], [cCyan, COL.c], [cRed, COL.r]], cGreen);
pair({x0: 407.5, x1: 676, s: [239.5, 281.7], sd: [1.37, 6.1], st: [2, 4, 6], sPad: 6, f: [294.3, 337.3], fd: [0, 2.17], ft: [0, 1, 2], fPad: 6, xPad: 4, lx: 373, tb: 362.5},
  [[dPurple, COL.p], [dCyan, COL.c], [dRed, COL.r]], dGreen);
pair({x0: 64.5, x1: 330.5, s: [372.3, 415], sd: [1.5, 4.7], st: [2, 3, 4], sPad: 4, f: [429.3, 471.7], fd: [0, 10], ft: [0, 5, 10], fPad: 4, xPad: 3.5, lx: 28, tb: 497.5},
  [[ePurple, COL.p], [eCyan, COL.c], [eRed, COL.r]], eGreen);
pair({x0: 408.5, x1: 677, s: [373.3, 416.7], sd: [1.43, 6.4], st: [2, 4, 6], sPad: 5, f: [428.3, 472.3], fd: [0, 2.87], ft: [0, 1, 2], fPad: 5, xPad: 3.5, lx: 374, tb: 497.5},
  [[fPurple, COL.p], [fCyan, COL.c], [fRed, COL.r]], fGreen);
pair({x0: 65, x1: 331.5, s: [507.7, 550], sd: [-0.43, 10.33], st: [0, 5, 10], sPad: 5, f: [563.3, 604.3], fd: [-0.26, 10.44], ft: [0, 5, 10], fPad: 5, xPad: 4.5, lx: 28, tb: 630},
  [[gPurple, COL.p], [gCyan, COL.c], [gRed, COL.r]], gGreen);
pair({x0: 408.5, x1: 676, s: [506.7, 550], sd: [1.6, 5.65], st: [2, 4], sPad: 6, f: [562.7, 605], fd: [0, 0.1], ft: [0, 0.05, 0.1], fPad: 5, xPad: 4, lx: 374, tb: 630},
  [[hPurple, COL.p], [hCyan, COL.c], [hRed, COL.r]], hGreen);

// panel letters
[['a', 0, 15], ['b', 345, 15], ['c', 0, 248.5], ['d', 345, 249], ['e', 0, 383.5], ['f', 346, 383.5], ['g', 0, 518], ['h', 345, 519]]
  .forEach(([l, x, y]) => text(x, y, l, 17));
</script>
</body></html>
